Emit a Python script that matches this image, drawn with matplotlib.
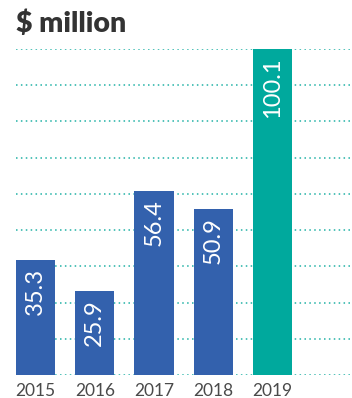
import matplotlib.pyplot as plt
import numpy as np

plt.rcParams['font.family'] = ['Lato', 'DejaVu Sans']

# Datos
anios = ['2015', '2016', '2017', '2018', '2019']
valores = [35.3, 25.9, 56.4, 50.9, 100.1]
colores = ['#3361AD', '#3361AD', '#3361AD', '#3361AD', '#00A99D']

fig = plt.figure(figsize=(3.52, 3.98), dpi=100)
ax = fig.add_axes([16 / 352, 23 / 398, 334 / 352, 326 / 398])

x = np.arange(len(anios))
bars = ax.bar(x, valores, width=0.66, color=colores, zorder=2)

# Líneas guía punteadas
for y in np.linspace(0, max(valores), 10):
    ax.axhline(y, color='#22B2A6', linestyle=(0, (1, 2.2)), linewidth=1.1, zorder=1)

ax.set_xlim(-0.33, 5.31)
ax.set_ylim(0, max(valores))
ax.set_xticks(x)
ax.set_xticklabels(anios, fontsize=12.5, color='#4a4a4a')
ax.tick_params(axis='x', length=0, pad=6)
ax.set_yticks([])
for s in ax.spines.values():
    s.set_visible(False)

# Valores dentro de las barras
for bar, val in zip(bars, valores):
    ax.annotate(f'{val:.1f}',
                xy=(bar.get_x() + bar.get_width() / 2, val),
                xytext=(0, -6), textcoords='offset points',
                rotation=90, ha='center', va='top',
                fontsize=17, color='white', fontweight='normal')

fig.text(16 / 352, 1 - 24 / 398, '$ million', fontsize=20.5, fontweight='heavy',
         color='#333333', ha='left', va='center')

fig.savefig('out.png', dpi=100, facecolor='white')
